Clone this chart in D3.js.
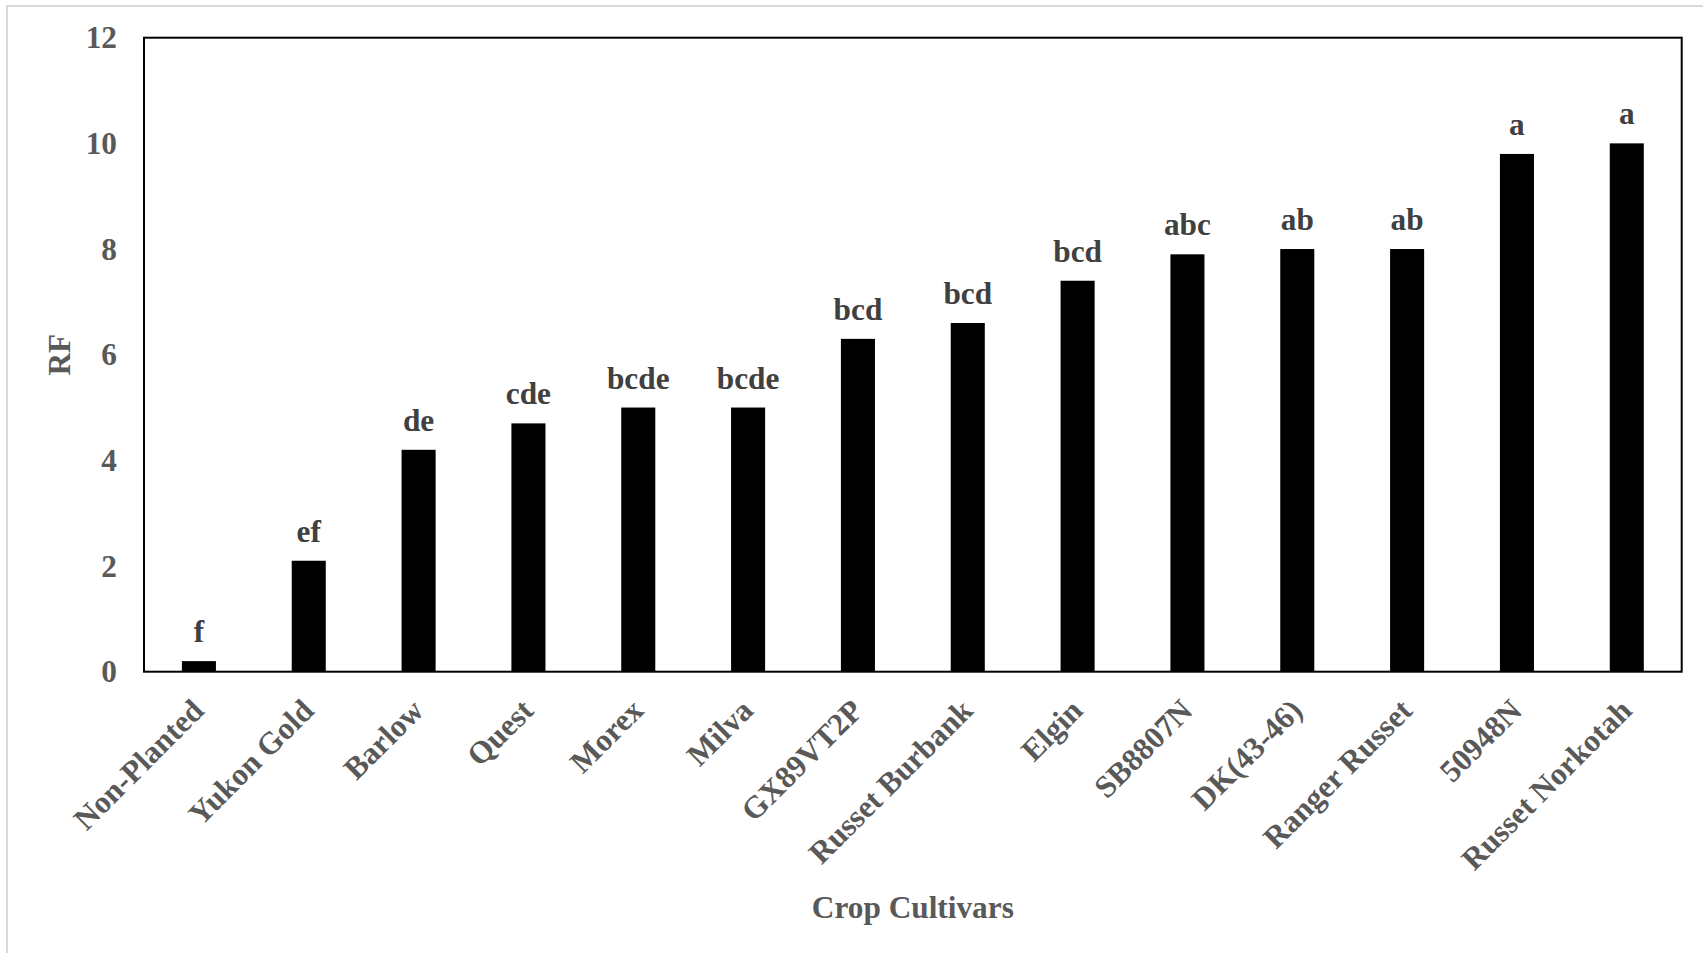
<!DOCTYPE html>
<html>
<head>
<meta charset="utf-8">
<script src="https://cdn.jsdelivr.net/npm/d3@7"></script>
<style>
html, body { margin: 0; padding: 0; background: #fff; }
svg { display: block; }
text { font-family: "Liberation Serif", "Times New Roman", serif; font-weight: bold; }
</style>
</head>
<body>
<script>
const categories = ["Non-Planted", "Yukon Gold", "Barlow", "Quest", "Morex", "Milva", "GX89VT2P",
  "Russet Burbank", "Elgin", "SB8807N", "DK(43-46)", "Ranger Russet", "50948N", "Russet Norkotah"];
const rfValues = [0.2, 2.1, 4.2, 4.7, 5.0, 5.0, 6.3, 6.6, 7.4, 7.9, 8.0, 8.0, 9.8, 10.0];
const groupLetters = ["f", "ef", "de", "cde", "bcde", "bcde", "bcd", "bcd", "bcd", "abc", "ab", "ab", "a", "a"];
const yTicks = [0, 2, 4, 6, 8, 10, 12];

const W = 1703, H = 953;
const plot = { left: 144, top: 37.7, right: 1681.7, bottom: 671.7 };
const fs = 31.3;

const svg = d3.select("body").append("svg").attr("width", W).attr("height", H);

// outer chart frame
svg.append("rect").attr("x", 7).attr("y", 6).attr("width", W + 20).attr("height", H + 20)
  .attr("fill", "#fff").attr("stroke", "#d9d9d9").attr("stroke-width", 2);

const x = d3.scaleBand().domain(categories).range([plot.left, plot.right]).paddingInner(0.69).paddingOuter(0.345);
const y = d3.scaleLinear().domain([0, 12]).range([plot.bottom, plot.top]);

// bars
svg.append("g").selectAll("rect").data(categories).join("rect")
  .attr("x", d => x(d))
  .attr("width", x.bandwidth())
  .attr("y", (d, i) => y(rfValues[i]))
  .attr("height", (d, i) => y(0) - y(rfValues[i]))
  .attr("fill", "#000");

// plot border
svg.append("rect").attr("x", plot.left).attr("y", plot.top)
  .attr("width", plot.right - plot.left).attr("height", plot.bottom - plot.top)
  .attr("fill", "none").attr("stroke", "#000").attr("stroke-width", 2);

// y axis
const yAxis = d3.axisLeft(y).tickValues(yTicks).tickSize(0).tickPadding(27);
const yg = svg.append("g").attr("transform", `translate(${plot.left},0)`).call(yAxis);
yg.select(".domain").remove();
yg.selectAll("text").attr("fill", "#595959").style("font-size", fs + "px")
  .style("font-family", "'Liberation Serif', serif").style("font-weight", "bold");

// x axis
const xAxis = d3.axisBottom(x).tickSize(0).tickPadding(0);
const xg = svg.append("g").attr("transform", `translate(0,${plot.bottom})`).call(xAxis);
xg.select(".domain").remove();
xg.selectAll("text")
  .attr("fill", "#595959").style("font-size", fs + "px")
  .style("font-family", "'Liberation Serif', serif").style("font-weight", "bold")
  .attr("y", null).attr("dy", null)
  .attr("text-anchor", "end")
  .attr("transform", "translate(-1,33) rotate(-45)")
  .attr("dy", "0.35em");

// group letters
svg.append("g").selectAll("text").data(categories).join("text")
  .attr("x", d => x(d) + x.bandwidth() / 2)
  .attr("y", (d, i) => y(rfValues[i]) - 19)
  .attr("text-anchor", "middle")
  .attr("fill", "#404040")
  .style("font-size", fs + "px")
  .text((d, i) => groupLetters[i]);

// axis titles
svg.append("text").attr("x", (plot.left + plot.right) / 2).attr("y", 918)
  .attr("text-anchor", "middle").attr("fill", "#595959").style("font-size", fs + "px")
  .text("Crop Cultivars");

svg.append("text").attr("transform", `translate(70,${(plot.top + plot.bottom) / 2}) rotate(-90)`)
  .attr("text-anchor", "middle").attr("fill", "#595959").style("font-size", fs + "px")
  .text("RF");
</script>
</body>
</html>
